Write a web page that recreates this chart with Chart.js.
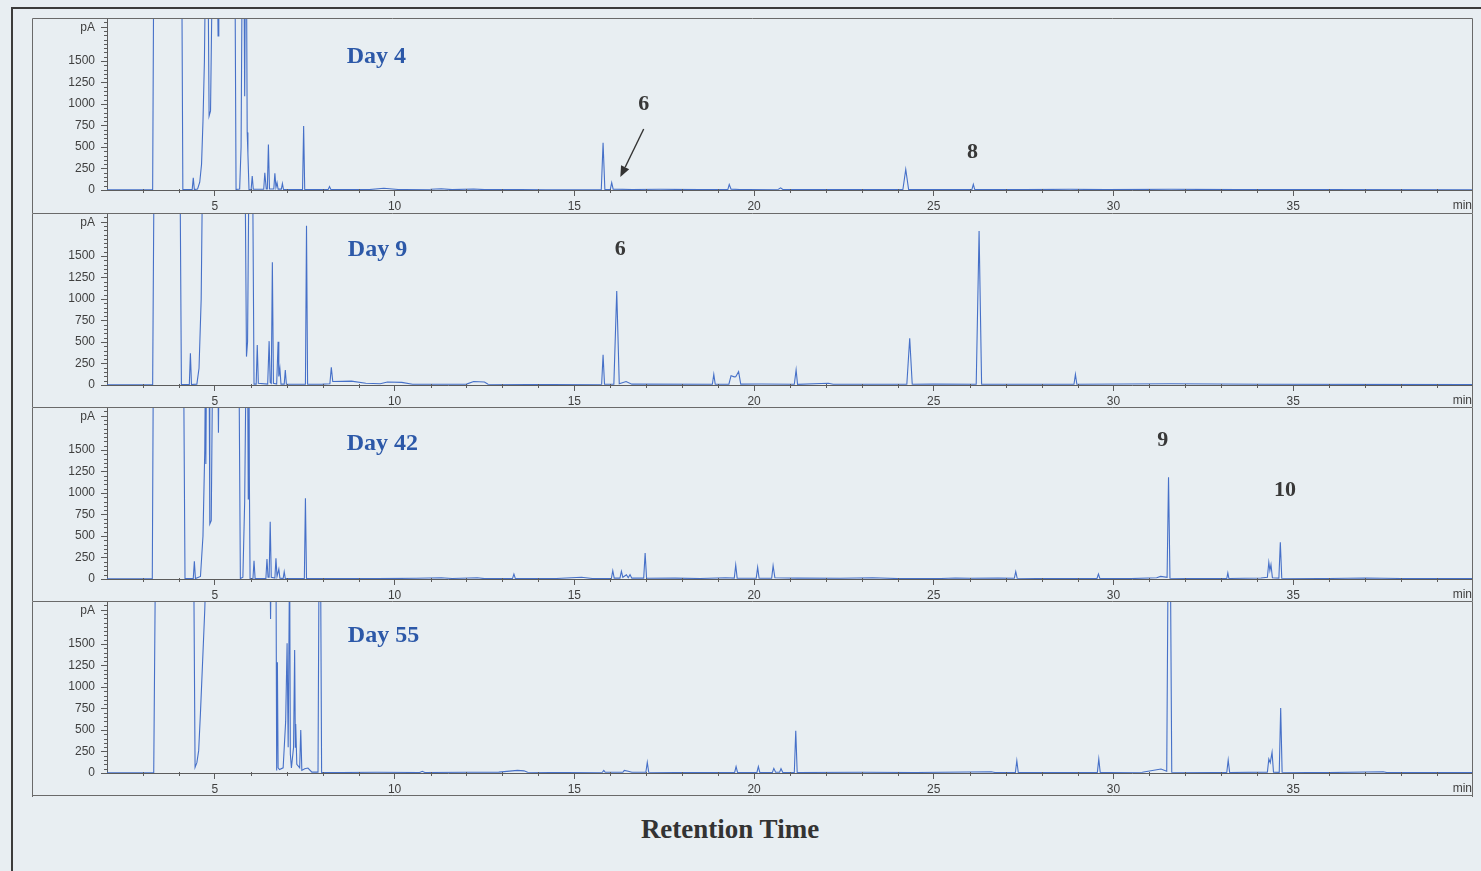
<!DOCTYPE html>
<html>
<head>
<meta charset="utf-8">
<script src="https://cdn.jsdelivr.net/npm/chart.js@4.4.1/dist/chart.umd.min.js"></script>
<style>
  html, body { margin: 0; padding: 0; }
  body { width: 1481px; height: 871px; background: #e8eef2; position: relative; overflow: hidden; }
  #frame { position: absolute; left: 11px; top: 7px; width: 1470px; height: 864px; border-top: 2px solid #3c3c3c; border-left: 2px solid #3c3c3c; }
  .panel { position: absolute; left: 32px; }
  #xtitle { position: absolute; left: 480px; width: 500px; top: 814px; text-align: center;
            font: bold 27px "Liberation Serif", "Times New Roman", serif; color: #333; }
</style>
</head>
<body>
<div id="frame"></div>
<canvas class="panel" id="p0" width="1441" height="195" style="top:18px"></canvas>
<canvas class="panel" id="p1" width="1441" height="194" style="top:213px"></canvas>
<canvas class="panel" id="p2" width="1441" height="194" style="top:407px"></canvas>
<canvas class="panel" id="p3" width="1441" height="196" style="top:601px"></canvas>
<div id="xtitle">Retention Time</div>
<script>
// retention time (min), signal (pA); 2600 = off scale
const day4Trace = [
  [2.0,2],[2.8,3],[3.27,3],[3.3,2600],[4.08,2600],[4.11,4],[4.37,4],[4.4,143],[4.43,5],[4.52,12],[4.58,90],
  [4.63,300],[4.67,800],[4.71,1500],[4.74,2600],[4.81,2600],[4.84,860],[4.88,920],[4.93,2600],[5.07,2600],
  [5.09,1790],[5.11,2600],[5.56,2600],[5.59,6],[5.69,12],[5.73,500],[5.76,2600],[5.81,2600],[5.83,1090],
  [5.85,2600],[5.88,2600],[5.9,670],[5.92,420],[5.95,6],[6.01,6],[6.04,163],[6.07,8],[6.36,8],[6.39,200],
  [6.43,12],[6.46,12],[6.49,530],[6.52,12],[6.64,12],[6.67,195],[6.7,30],[6.73,85],[6.76,10],[6.85,10],
  [6.88,75],[6.91,6],[7.44,6],[7.47,745],[7.5,4],[8.15,4],[8.19,40],[8.23,4],[9.3,5],[9.7,20],[10.1,6],
  [11.0,8],[11.3,14],[11.6,4],[12.2,12],[12.5,4],[13.5,6],[14.2,3],[15.75,4],[15.8,550],[15.85,4],[16.0,4],
  [16.04,85],[16.08,10],[16.6,6],[17.4,8],[18.5,4],[19.27,4],[19.31,65],[19.36,10],[19.6,6],[20.68,8],
  [20.74,25],[20.8,6],[22.0,5],[24.14,5],[24.22,240],[24.3,5],[25.5,6],[26.06,5],[26.1,65],[26.14,5],
  [27.5,4],[28.8,8],[29.8,4],[31.6,8],[33.5,4],[35.8,6],[40,3]
];
const day9Trace = [
  [2.0,2],[3.27,3],[3.31,2600],[4.03,2600],[4.07,4],[4.29,4],[4.32,368],[4.35,6],[4.5,10],[4.56,194],
  [4.62,1000],[4.66,2600],[5.84,2600],[5.88,330],[5.91,500],[5.95,2600],[6.05,2600],[6.09,10],[6.15,10],
  [6.18,465],[6.21,20],[6.47,10],[6.51,510],[6.54,30],[6.57,20],[6.6,1426],[6.63,20],[6.72,10],[6.76,504],
  [6.78,100],[6.81,190],[6.84,10],[6.93,10],[6.96,175],[6.99,10],[7.3,8],[7.52,8],[7.55,1853],[7.58,8],
  [8.0,10],[8.2,15],[8.24,205],[8.28,40],[8.8,45],[9.2,20],[9.6,15],[9.8,35],[10.2,30],[10.5,8],[12.0,10],
  [12.2,40],[12.5,35],[12.6,8],[14.0,6],[15.76,8],[15.8,350],[15.84,8],[16.1,10],[16.18,1093],[16.25,15],
  [16.44,40],[16.6,10],[18.84,8],[18.88,124],[18.92,8],[19.3,10],[19.36,108],[19.45,95],[19.49,97],
  [19.57,155],[19.63,10],[20.2,12],[21.12,8],[21.17,175],[21.21,8],[22.07,20],[22.2,8],[24.25,8],
  [24.33,543],[24.4,8],[25.0,10],[26.18,8],[26.26,1790],[26.33,8],[28.9,8],[28.94,124],[28.98,8],
  [31.6,15],[34.2,8],[40,5]
];
const day42Trace = [
  [2.0,2],[3.26,3],[3.29,2600],[4.13,2600],[4.17,4],[4.4,4],[4.43,205],[4.46,5],[4.6,30],[4.67,500],
  [4.72,1500],[4.74,2600],[4.75,1337],[4.77,2600],[4.84,2600],[4.86,640],[4.9,680],[4.94,2600],[5.08,2600],
  [5.1,1700],[5.12,2600],[5.67,2600],[5.71,5],[5.78,20],[5.83,900],[5.87,2600],[5.91,2600],[5.93,930],
  [5.95,2600],[5.96,1200],[5.98,5],[6.06,5],[6.09,213],[6.12,5],[6.42,5],[6.45,232],[6.48,20],[6.51,20],
  [6.54,667],[6.57,20],[6.67,10],[6.7,240],[6.73,30],[6.78,116],[6.81,10],[6.9,5],[6.93,85],[6.96,5],
  [7.49,5],[7.52,938],[7.55,4],[8.5,6],[9.5,4],[10.6,8],[11.3,15],[11.6,6],[12.3,15],[12.5,4],[13.28,5],
  [13.32,58],[13.36,5],[14.5,6],[15.2,20],[15.5,6],[16.03,6],[16.07,97],[16.11,10],[16.27,10],[16.31,90],
  [16.35,20],[16.45,50],[16.5,15],[16.55,50],[16.6,10],[16.93,10],[16.97,302],[17.01,8],[17.8,10],
  [18.5,6],[19.2,15],[19.45,10],[19.49,163],[19.53,10],[19.8,8],[20.06,8],[20.1,136],[20.14,8],[20.49,8],
  [20.53,155],[20.58,15],[21.2,10],[22.4,8],[23.3,15],[24.0,5],[25.2,6],[25.6,12],[26.0,8],[26.8,10],
  [27.24,8],[27.28,85],[27.32,8],[28.0,6],[29.54,6],[29.58,58],[29.62,6],[30.5,5],[31.2,15],[31.31,30],
  [31.49,20],[31.53,1182],[31.57,8],[32.5,5],[33.15,6],[33.18,70],[33.21,6],[34.1,12],[34.28,20],
  [34.32,194],[34.35,100],[34.38,167],[34.42,15],[34.6,10],[34.64,426],[34.68,8],[36.0,6],[37.0,12],
  [38.0,6],[40,4]
];
const day55Trace = [
  [2.0,2],[3.3,3],[3.35,2600],[4.41,2600],[4.45,66],[4.5,120],[4.55,260],[4.6,700],[4.66,1300],[4.72,1900],
  [4.77,2600],[6.53,2600],[6.55,1790],[6.57,2600],[6.7,2600],[6.72,30],[6.74,1287],[6.76,60],[6.8,40],
  [6.9,60],[6.97,600],[7.01,1508],[7.04,300],[7.08,2600],[7.1,220],[7.13,60],[7.19,300],[7.22,1430],
  [7.24,300],[7.25,570],[7.28,100],[7.36,60],[7.39,500],[7.42,30],[7.5,50],[7.59,58],[7.7,10],[7.87,10],
  [7.9,2600],[7.94,2600],[7.97,5],[8.5,6],[9.5,8],[10.7,6],[10.77,20],[10.84,6],[12.0,8],[12.9,10],
  [13.42,30],[13.6,25],[13.7,8],[14.5,6],[15.78,8],[15.82,30],[15.86,8],[16.35,8],[16.39,30],[16.5,20],
  [16.6,8],[16.99,8],[17.03,124],[17.07,8],[18.0,6],[19.46,6],[19.5,74],[19.54,6],[20.08,6],[20.12,74],
  [20.16,6],[20.51,6],[20.55,54],[20.6,8],[20.71,8],[20.75,50],[20.8,6],[21.12,6],[21.16,492],[21.2,6],
  [23.0,8],[24.5,6],[26.6,15],[26.7,6],[27.27,6],[27.31,143],[27.35,6],[28.5,6],[29.55,6],[29.59,163],
  [29.63,6],[30.8,8],[31.32,47],[31.48,20],[31.52,2600],[31.58,2600],[31.62,8],[33.15,6],[33.19,151],
  [33.23,6],[34.28,10],[34.32,163],[34.36,120],[34.41,240],[34.45,10],[34.61,8],[34.65,756],[34.69,8],
  [36.0,5],[37.5,15],[37.6,5],[40,4]
];

const dayLabels = ['Day 4', 'Day 9', 'Day 42', 'Day 55'];
const xTickValues = [5, 10, 15, 20, 25, 30, 35];
const yTickValues = [0, 250, 500, 750, 1000, 1250, 1500];
const unitTickValue = 1890;   // where 'pA' sits on the axis

// peak numbers and arrow, in data coordinates
const peakNotes = [
  [{ t: 16.93, v: 1000, text: '6' }, { t: 26.08, v: 438, text: '8' }],
  [{ t: 16.28, v: 1580, text: '6' }],
  [{ t: 31.37, v: 1612, text: '9' }, { t: 34.77, v: 1037, text: '10' }],
  []
];
const arrows = [[{ from: [16.93, 710], to: [16.28, 150] }], [], [], []];
const dayLabelPos = [[8.67, 1547], [8.7, 1570], [8.67, 1570], [8.7, 1593]];

const TRACE = '#4670c8';
const AXIS = '#5c5c5c';
const TICK_TEXT = '#3f3f3f';
const BASE_H = 172; // height of the plotting area

const decor = {
  id: 'decor',
  afterDraw(chart, args, opts) {
    const { ctx, chartArea: a, scales: { x, y } } = chart;
    ctx.save();
    ctx.strokeStyle = AXIS;
    ctx.lineWidth = 1;
    ctx.beginPath();
    for (let v = 50; v <= 2000; v += 50) {
      if (v % 250 === 0 && v <= 1500) continue;
      const py = Math.round(y.getPixelForValue(v)) + 0.5;
      ctx.moveTo(a.left - 3, py); ctx.lineTo(a.left, py);
    }
    for (let t = 3; t <= 39; t++) {
      if (t % 5 === 0) continue;
      const px = Math.round(x.getPixelForValue(t)) + 0.5;
      ctx.moveTo(px, a.bottom - 1); ctx.lineTo(px, a.bottom + 3);
    }
    ctx.stroke();

    ctx.fillStyle = TICK_TEXT;
    ctx.font = '12px "Liberation Sans", Arial, sans-serif';
    ctx.textAlign = 'right';
    ctx.textBaseline = 'middle';
    ctx.fillText('min', a.right - 1, a.bottom + 16);

    // panel box
    ctx.strokeStyle = '#6a6a6a';
    ctx.beginPath();
    ctx.moveTo(0.5, chart.height); ctx.lineTo(0.5, 0.5);
    ctx.lineTo(chart.width - 0.5, 0.5); ctx.lineTo(chart.width - 0.5, chart.height);
    if (opts.closeBottom) { ctx.moveTo(0, chart.height - 1.5); ctx.lineTo(chart.width, chart.height - 1.5); }
    ctx.stroke();

    // day label
    ctx.font = 'bold 24px "Liberation Serif", "Times New Roman", serif';
    ctx.fillStyle = '#2c58a8';
    ctx.textAlign = 'left';
    ctx.fillText(opts.day, x.getPixelForValue(opts.dayPos[0]), y.getPixelForValue(opts.dayPos[1]));

    ctx.font = 'bold 22px "Liberation Serif", "Times New Roman", serif';
    ctx.fillStyle = '#383838';
    ctx.textAlign = 'center';
    opts.notes.forEach(n => ctx.fillText(n.text, x.getPixelForValue(n.t), y.getPixelForValue(n.v)));

    ctx.strokeStyle = '#333';
    ctx.fillStyle = '#333';
    ctx.lineWidth = 1.4;
    opts.arrows.forEach(ar => {
      const x0 = x.getPixelForValue(ar.from[0]), y0 = y.getPixelForValue(ar.from[1]);
      const x1 = x.getPixelForValue(ar.to[0]), y1 = y.getPixelForValue(ar.to[1]);
      const ang = Math.atan2(y1 - y0, x1 - x0);
      const hl = 11, hw = 4.5;
      const bx = x1 - hl * Math.cos(ang), by = y1 - hl * Math.sin(ang);
      ctx.beginPath(); ctx.moveTo(x0, y0); ctx.lineTo(bx, by); ctx.stroke();
      ctx.beginPath();
      ctx.moveTo(x1, y1);
      ctx.lineTo(bx + hw * Math.sin(ang), by - hw * Math.cos(ang));
      ctx.lineTo(bx - hw * Math.sin(ang), by + hw * Math.cos(ang));
      ctx.closePath(); ctx.fill();
    });
    ctx.restore();
  }
};

function noPad(s) {
  s.paddingTop = 0; s.paddingBottom = 0; s.paddingLeft = 0; s.paddingRight = 0;
}

function panelChart(id, trace, i, last) {
  const canvas = document.getElementById(id);
  const axisH = canvas.height - BASE_H;
  return new Chart(canvas, {
    type: 'line',
    data: {
      datasets: [{
        data: trace.map(p => ({ x: p[0], y: p[1] })),
        borderColor: TRACE,
        borderWidth: 1.1,
        pointRadius: 0,
        tension: 0,
        fill: false
      }]
    },
    options: {
      responsive: false,
      animation: false,
      events: [],
      layout: { padding: 0 },
      plugins: {
        legend: { display: false },
        tooltip: { enabled: false },
        decor: { day: dayLabels[i], dayPos: dayLabelPos[i], notes: peakNotes[i], arrows: arrows[i], closeBottom: last }
      },
      scales: {
        x: {
          type: 'linear', min: 2, max: 40,
          afterBuildTicks: s => { s.ticks = xTickValues.map(v => ({ value: v })); },
          afterFit: s => { s.height = axisH; noPad(s); },
          ticks: { color: TICK_TEXT, autoSkip: false, maxRotation: 0, padding: 3,
                   font: { family: '"Liberation Sans", Arial, sans-serif', size: 12 } },
          grid: { drawOnChartArea: false, tickLength: 6, color: AXIS },
          border: { color: AXIS }
        },
        y: {
          min: 0, max: 2000,
          afterBuildTicks: s => { s.ticks = yTickValues.concat([unitTickValue]).map(v => ({ value: v })); },
          afterFit: s => { s.width = 75; noPad(s); },
          ticks: { color: TICK_TEXT, autoSkip: false, padding: 6,
                   font: { family: '"Liberation Sans", Arial, sans-serif', size: 12 },
                   callback: v => v === unitTickValue ? 'pA' : v },
          grid: { drawOnChartArea: false, tickLength: 6, color: AXIS },
          border: { color: AXIS }
        }
      }
    },
    plugins: [decor]
  });
}

panelChart('p0', day4Trace, 0, false);
panelChart('p1', day9Trace, 1, false);
panelChart('p2', day42Trace, 2, false);
panelChart('p3', day55Trace, 3, true);
</script>
</body>
</html>
